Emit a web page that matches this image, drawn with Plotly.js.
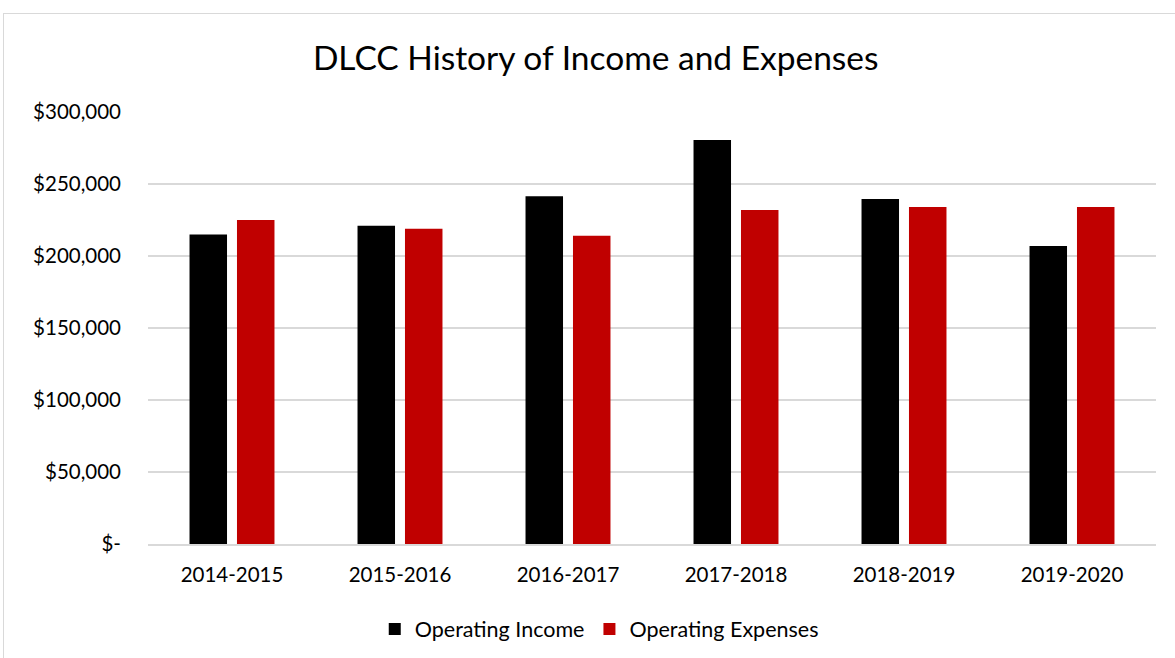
<!DOCTYPE html>
<html>
<head>
<meta charset="utf-8">
<script src="https://cdn.plot.ly/plotly-3.0.1.min.js"></script>
<style>
  html, body { margin: 0; padding: 0; background: #ffffff; overflow: hidden; }
  #frame { position: absolute; left: 3px; top: 13px; width: 1200px; height: 700px; border: 1.5px solid #d9d9d9; box-sizing: border-box; pointer-events: none; z-index: 2; }
  #chart { position: absolute; left: 0; top: 0; width: 1175px; height: 658px; }
</style>
</head>
<body>
<div id="chart"></div>
<div id="frame"></div>
<script>
const categories = ["2014-2015", "2015-2016", "2016-2017", "2017-2018", "2018-2019", "2019-2020"];
const operatingIncome = [215000, 221000, 241500, 280500, 239500, 207000];
const operatingExpenses = [225000, 219000, 214000, 232000, 234000, 234000];
const yTickVals = [0, 50000, 100000, 150000, 200000, 250000, 300000];
const yTickText = ["$-", "$50,000", "$100,000", "$150,000", "$200,000", "$250,000", "$300,000"];

const font = "Lato, 'Open Sans', sans-serif";

const traces = [
  { type: "bar", name: "Operating Income", x: categories, y: operatingIncome,
    marker: { color: "#000000" }, hoverinfo: "skip" },
  { type: "bar", name: "Operating Expenses", x: categories, y: operatingExpenses,
    marker: { color: "#c00000" }, hoverinfo: "skip" }
];

const layout = {
  width: 1175, height: 658,
  paper_bgcolor: "#ffffff", plot_bgcolor: "#ffffff",
  font: { family: font, color: "#000000", size: 20.5 },
  title: { text: "DLCC History of Income and Expenses", font: { family: font, size: 33.5, color: "#000000" },
           x: 0.507, xref: "container", y: 0.912, yref: "container", xanchor: "center", yanchor: "middle" },
  margin: { l: 148, r: 19, t: 112, b: 114 },
  barmode: "group", bargap: 0.435, bargroupgap: 0.21,
  xaxis: { type: "category", showgrid: false, showline: true, linecolor: "#d9d9d9", linewidth: 1.5,
           ticks: "", tickfont: { family: font, size: 20.5, color: "#000000" }, ticklabelstandoff: 12, fixedrange: true },
  yaxis: { range: [0, 300000], tickvals: yTickVals, ticktext: yTickText, showgrid: true, gridcolor: "#d9d9d9", gridwidth: 1.5,
           zeroline: false, showline: false, ticks: "", tickfont: { family: font, size: 20.5, color: "#000000" },
           ticklabelstandoff: 26, fixedrange: true },
  showlegend: true,
  legend: { orientation: "h", x: 0.51, xref: "container", xanchor: "center", y: 0.044, yref: "container", yanchor: "middle",
            font: { family: font, size: 21.5, color: "#000000" }, itemwidth: 30, traceorder: "normal" }
};

Plotly.newPlot("chart", traces, layout, { staticPlot: true, displayModeBar: false });
</script>
</body>
</html>
